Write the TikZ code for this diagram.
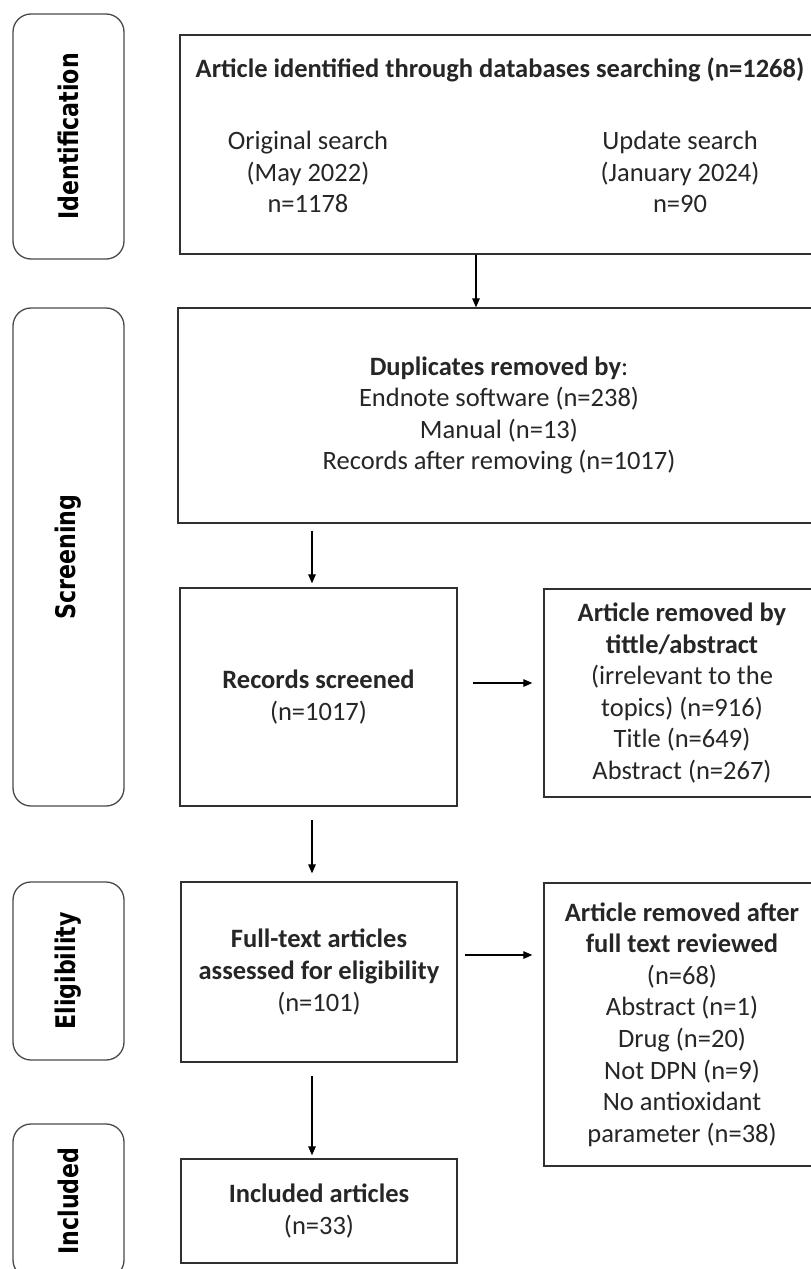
\documentclass[tikz,border=0pt]{standalone}
\usepackage{fontspec}
\setmainfont{Carlito}
\newfontfamily\sidefont[FakeStretch=0.82]{DejaVu Sans Bold}
\usetikzlibrary{arrows.meta}
\definecolor{ink}{HTML}{262626}
\definecolor{frame}{HTML}{303030}
\definecolor{sideframe}{HTML}{4A4A4A}
\tikzset{
  box/.style={draw=frame, line width=1.3pt, fill=white, align=center, text=ink,
    font=\fontsize{26.5}{31.6}\selectfont, inner sep=0pt},
  txt/.style={align=center, text=ink, font=\fontsize{26.5}{31.6}\selectfont, inner sep=0pt},
  sidebox/.style={draw=sideframe, line width=1.3pt, rounded corners=18pt, text=black,
    font=\sidefont\fontsize{27}{32}\selectfont, inner sep=0pt},
  arr/.style={draw=black, line width=1.2pt, -{Triangle[length=9pt,width=7.5pt]}}
}
\begin{document}
\begin{tikzpicture}[x=1pt,y=-1pt]
\useasboundingbox (0,0) rectangle (811,1269);
\clip (0,0) rectangle (811,1269);
% side phase labels
\node[sidebox, minimum width=111, minimum height=245] (sId) at (68.5,136.5) {};
\node[rotate=90, font=\sidefont\fontsize{27}{32}\selectfont] (lId) at (sId.center) {Identification};
\node[sidebox, minimum width=111, minimum height=498] (sScr) at (68.5,557) {};
\node[rotate=90, font=\sidefont\fontsize{27}{32}\selectfont] (lScr) at (sScr.center) {Screening};
\node[sidebox, minimum width=111, minimum height=178] (sElig) at (68.5,971) {};
\node[rotate=90, font=\sidefont\fontsize{27}{32}\selectfont] (lElig) at (sElig.center) {Eligibility};
\node[sidebox, minimum width=111, minimum height=154] (sInc) at (68.5,1201) {};
\node[rotate=90, font=\sidefont\fontsize{27}{32}\selectfont] (lInc) at (sInc.center) {Included};
% main boxes
\node[box, minimum width=640, minimum height=219] (top) at (500,144.5) {};
\node[txt] (ttitle) at (500,70) {\textbf{Article identified through databases searching (n=1268)}};
\node[txt] (orig) at (308,172) {Original search\\(May 2022)\\n=1178};
\node[txt] (upd) at (680,172) {Update search\\(January 2024)\\n=90};
\node[box, minimum width=642, minimum height=215] (dup) at (499,415.5)
  {\textbf{Duplicates removed by}:\\Endnote software (n=238)\\Manual (n=13)\\Records after removing (n=1017)};
\node[box, minimum width=277, minimum height=218] (rec) at (318.5,697)
  {\textbf{Records screened}\\(n=1017)};
\node[box, minimum width=276, minimum height=208] (remTA) at (682,693)
  {\textbf{Article removed by}\\\textbf{tittle/abstract}\\(irrelevant to the\\topics) (n=916)\\Title (n=649)\\Abstract (n=267)};
\node[box, minimum width=276, minimum height=180] (full) at (319,972)
  {\textbf{Full-text articles}\\\textbf{assessed for eligibility}\\(n=101)};
\node[box, minimum width=276, minimum height=283] (remFT) at (682,1024.5)
  {\textbf{Article removed after}\\\textbf{full text reviewed}\\(n=68)\\Abstract (n=1)\\Drug (n=20)\\Not DPN (n=9)\\No antioxidant\\parameter (n=38)};
\node[box, minimum width=276, minimum height=104] (incl) at (319,1211)
  {\textbf{Included articles}\\(n=33)};
% connectors
\coordinate (c1) at (476,0);
\coordinate (c2) at (312,0);
\coordinate (h1) at (0,683);
\coordinate (h2) at (0,955);
\draw[arr] (top.south -| c1) -- (dup.north -| c1);
\draw[arr, shorten <=7pt, shorten >=4pt] (dup.south -| c2) -- (rec.north -| c2);
\draw[arr, shorten <=15pt, shorten >=11pt] (rec.east |- h1) -- (remTA.west |- h1);
\draw[arr, shorten <=13pt, shorten >=8pt] (rec.south -| c2) -- (full.north -| c2);
\draw[arr, shorten <=7pt, shorten >=11pt] (full.east |- h2) -- (remFT.west |- h2);
\draw[arr, shorten <=13pt, shorten >=3pt] (full.south -| c2) -- (incl.north -| c2);
\end{tikzpicture}
\end{document}
